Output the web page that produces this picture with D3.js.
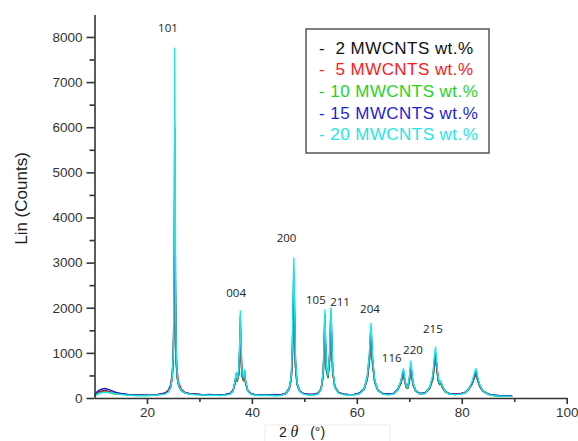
<!DOCTYPE html>
<html><head><meta charset="utf-8">
<script src="https://cdn.jsdelivr.net/npm/d3@7"></script>
<style>
body{margin:0;background:#fff;}
svg{display:block;}
</style></head>
<body>
<svg id="chart" width="578" height="441"></svg>
<script>
// 2θ grid (degrees)
const twoTheta = [10,10.5,11,11.5,12,12.5,13,13.5,14,15,16,17,18,19,20,21,22,23,23.6,24.1,24.5,24.8,25.0,25.1,25.2,25.3,25.4,25.5,25.6,25.8,26.1,26.6,27.2,28,29,30,31,32,33,34,35,35.8,36.4,36.8,37.0,37.2,37.5,37.7,37.8,37.9,38.1,38.4,38.6,38.8,39.2,39.8,40.5,41.5,42.5,43.5,44.5,45.5,46.4,47.1,47.5,47.7,47.9,48.0,48.1,48.3,48.6,49.1,49.9,50.8,51.8,52.6,53.2,53.6,53.8,53.9,54.0,54.2,54.5,54.8,55.0,55.1,55.2,55.4,55.8,56.5,57.5,58.5,59.5,60.5,61.4,62.0,62.4,62.6,62.7,62.8,63.0,63.4,64.0,65.0,66.0,67.0,67.8,68.4,68.7,68.9,69.1,69.4,69.7,70.0,70.2,70.3,70.4,70.7,71.2,72.0,73.0,73.9,74.5,74.8,75.0,75.2,75.5,75.8,76.0,76.3,76.8,77.6,78.6,79.6,80.6,81.4,82.0,82.4,82.6,82.7,82.8,83.0,83.4,84.0,85.0,86.0,87.0,88.0,89.0,89.6];

const counts2 = [50,110,140,155,160,150,135,120,105,90,80,70,65,60,60,65,75,90,105,150,240,440,830,1400,2700,4300,2550,1200,720,420,255,165,120,100,90,80,75,80,70,70,80,95,150,330,480,370,530,1000,1450,1020,500,380,530,330,155,95,75,70,70,65,65,70,95,190,410,840,1900,2250,1780,700,300,150,95,80,80,100,195,500,1220,1600,1230,600,450,840,1500,1650,1230,560,240,120,85,75,80,100,190,420,830,1220,1350,1190,750,350,165,95,80,95,180,320,480,520,400,235,215,370,580,650,560,295,150,95,105,215,430,770,900,700,390,295,330,235,140,95,85,90,115,200,320,450,510,520,500,400,260,150,85,60,50,45,40,40];

const counts5 = [45,100,130,145,150,140,125,110,100,85,75,65,60,60,60,65,80,100,125,180,300,520,900,1400,2400,3350,2500,1450,950,560,320,190,130,100,85,80,70,75,70,65,80,100,170,350,470,390,520,940,1300,960,500,390,520,340,170,100,75,65,70,65,60,70,100,210,430,820,1700,2000,1650,720,320,160,95,80,80,105,210,520,1180,1500,1200,640,480,820,1420,1550,1200,580,260,125,85,75,80,105,210,440,820,1180,1300,1160,760,370,175,95,80,100,190,330,470,500,390,240,220,360,560,620,540,300,155,95,110,220,420,730,850,680,400,310,340,245,145,95,85,95,120,210,330,460,510,520,500,410,270,155,85,60,50,45,40,40];

const counts10 = [40,90,110,125,130,125,110,100,90,80,70,60,55,55,55,60,70,85,100,145,235,430,850,1450,2900,4750,2700,1250,740,420,250,160,115,90,80,70,65,65,60,60,70,90,150,340,500,380,560,1100,1600,1120,530,400,560,340,150,90,65,60,60,60,55,60,90,190,430,900,2100,2500,1950,760,310,145,85,70,70,95,190,530,1300,1700,1300,630,460,880,1600,1750,1300,580,235,110,75,65,70,95,190,440,880,1300,1450,1270,790,360,160,85,70,90,180,340,510,560,420,240,220,390,620,700,600,310,150,90,100,220,450,810,950,730,400,300,340,240,140,90,75,80,105,200,340,480,550,560,530,420,270,150,80,55,45,40,35,35];

const counts15 = [60,140,180,200,210,195,175,150,130,100,85,70,65,60,60,65,75,95,110,160,250,450,900,1600,3500,6000,3300,1450,820,450,260,165,120,95,85,80,70,75,65,70,80,100,165,370,540,410,620,1200,1800,1250,580,430,600,370,170,100,75,70,75,65,70,70,100,210,470,1000,2350,2800,2200,850,340,160,95,80,80,105,210,580,1400,1850,1420,680,490,950,1750,1900,1420,630,260,125,85,75,80,110,210,470,950,1400,1550,1360,850,390,180,95,85,100,200,360,540,600,450,260,240,420,660,740,640,330,170,100,110,240,480,860,1000,780,430,320,360,260,155,100,85,90,120,210,350,500,570,580,560,450,290,165,90,65,55,50,45,45];

const counts20 = [40,80,100,120,130,125,115,105,95,80,70,60,55,50,55,60,65,80,95,140,230,430,950,1800,4300,7750,4100,1650,900,470,260,160,115,90,75,70,65,60,60,55,65,85,150,380,560,420,650,1300,1930,1350,600,450,620,380,160,90,65,55,60,55,50,55,90,200,480,1100,2600,3100,2400,900,350,150,85,65,65,90,200,600,1500,1950,1500,700,500,1000,1850,2000,1500,650,250,110,75,65,70,95,200,480,1000,1500,1650,1450,900,400,170,85,70,90,190,380,580,650,480,260,240,450,720,820,700,350,160,90,100,240,520,950,1130,850,450,330,380,270,150,90,75,80,110,210,370,540,630,650,610,480,300,160,80,55,45,40,35,35];

const seriesNames = ["-  2 MWCNTS wt.%","-  5 MWCNTS wt.%","- 10 MWCNTS wt.%","- 15 MWCNTS wt.%","- 20 MWCNTS wt.%"];
const seriesValues = [counts2, counts5, counts10, counts15, counts20];
const seriesColors = ["#111111","#ff1a1a","#1fd41f","#1f1fd8","#1fe6e6"];

const xTicks = [20,40,60,80,100];
const xMinorTicks = [30,50,70,90];
const yTicks = [0,1000,2000,3000,4000,5000,6000,7000,8000];
const yMinorTicks = [500,1500,2500,3500,4500,5500,6500,7500];

const peakLabels = ["101","004","200","105","211","204","116","220","215"];
const peakLabelX = [24.0,37.0,46.6,52.2,56.8,62.5,66.65,70.7,74.5];
const peakLabelY = [8118,2245,3464,2083,2039,1884,804,975,1440];

const svg = d3.select("#chart");
const x = d3.scaleLinear().domain([10,100]).range([94.5,566.7]);
const y = d3.scaleLinear().domain([0,8500]).range([398,14.4]);

// faint box around x label
svg.append("rect").attr("x",265).attr("y",425).attr("width",125).attr("height",20)
  .attr("fill","none").attr("stroke","#ececec").attr("stroke-width",1);

// lines
const line = d3.line().x((d,i)=>x(twoTheta[i])).y(d=>y(d));
const g = svg.append("g");
seriesValues.forEach((vals,k)=>{
  g.append("path").datum(vals).attr("d",line)
    .attr("fill","none").attr("stroke",seriesColors[k]).attr("stroke-width",1.4)
    .attr("stroke-linejoin","round");
});

// axes
const axisColor = "#333";
const fmt = d3.format("d");
const xAxis = svg.append("g").attr("transform","translate(0,398)")
  .call(d3.axisBottom(x).tickValues(xTicks).tickFormat(fmt).tickSize(6).tickSizeOuter(0).tickPadding(3));
const xMinor = svg.append("g").attr("transform","translate(0,398)")
  .call(d3.axisBottom(x).tickValues(xMinorTicks).tickSize(4).tickFormat(""));
xMinor.select(".domain").remove();
const yAxis = svg.append("g").attr("transform","translate(94.5,0)")
  .call(d3.axisLeft(y).tickValues(yTicks).tickFormat(fmt).tickSize(8).tickSizeOuter(0).tickPadding(4));
const yMinor = svg.append("g").attr("transform","translate(94.5,0)")
  .call(d3.axisLeft(y).tickValues(yMinorTicks).tickSize(5).tickFormat(""));
yMinor.select(".domain").remove();
[xAxis,xMinor,yAxis,yMinor].forEach(a=>{
  a.selectAll("path,line").attr("stroke",axisColor).attr("stroke-width",1.6);
  a.selectAll("text").attr("fill","#333").style("font-family","'Liberation Sans',Arial,sans-serif").style("font-size","13.5px");
});

// axis titles
svg.append("text").attr("transform","translate(27,198.5) rotate(-90)")
  .attr("text-anchor","middle").attr("fill","#222")
  .style("font-family","'Liberation Sans',Arial,sans-serif").style("font-size","17px")
  .text("Lin (Counts)");
const xt = svg.append("text").attr("x",302).attr("y",437).attr("text-anchor","middle")
  .attr("fill","#222").style("font-family","'Liberation Sans',Arial,sans-serif").style("font-size","14px")
  .style("white-space","pre");
xt.append("tspan").text("2 ");
xt.append("tspan").style("font-style","italic").style("font-family","'Liberation Serif',serif").style("font-size","16px").text("θ");
xt.append("tspan").text("   (°)");

// peak labels
svg.append("g").selectAll("text").data(peakLabels).join("text")
  .attr("x",(d,i)=>x(peakLabelX[i])).attr("y",(d,i)=>y(peakLabelY[i]))
  .attr("text-anchor","middle").attr("fill","#222")
  .style("font-family","'Open Sans',sans-serif").style("font-size","11.5px")
  .text(d=>d);

// legend
const lg = svg.append("g");
lg.append("rect").attr("x",306).attr("y",29).attr("width",183).attr("height",124)
  .attr("fill","#fff").attr("stroke","#555").attr("stroke-width",1.5);
lg.selectAll("text").data(seriesNames).join("text")
  .attr("x",319).attr("y",(d,i)=>53.5+i*21.7)
  .attr("fill",(d,i)=>seriesColors[i])
  .style("font-family","'Liberation Sans',Arial,sans-serif").style("font-size","17px")
  .style("letter-spacing","0.45px")
  .style("white-space","pre")
  .text(d=>d);
</script>
</body></html>
